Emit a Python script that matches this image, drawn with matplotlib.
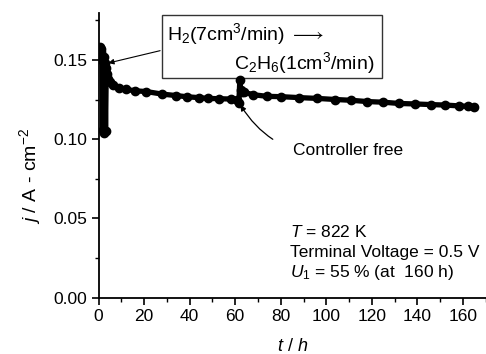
import matplotlib
matplotlib.use("Agg")
import matplotlib.pyplot as plt
from matplotlib.patches import Rectangle
from matplotlib.ticker import MultipleLocator

plt.rcParams['font.family'] = ['Liberation Sans', 'DejaVu Sans']
plt.rcParams['mathtext.fontset'] = 'custom'
plt.rcParams['mathtext.rm'] = 'Liberation Sans'
plt.rcParams['mathtext.it'] = 'Liberation Sans:italic'
plt.rcParams['mathtext.bf'] = 'Liberation Sans:bold'

# current density trace (t in h, j in A/cm2)
t_hours = [0.5, 0.9, 1.3, 1.6, 1.9, 2.2, 2.5, 2.8, 3.1, 3.4, 3.8, 4.2, 5.0, 6.5,
           9, 12, 16, 21, 28, 34, 39, 44, 48, 53, 58,
           61.0, 61.6, 62.0, 62.4, 63.0, 64, 68, 74, 80, 88, 96,
           104, 111, 118, 125, 132, 139, 146, 152, 158, 162, 165]
j_current = [0.158, 0.157, 0.155, 0.150, 0.106, 0.152, 0.104, 0.148, 0.105, 0.145, 0.141, 0.138,
             0.136, 0.134,
             0.132, 0.1314, 0.1305, 0.130, 0.1284, 0.1275, 0.1267, 0.1262, 0.1257, 0.1255, 0.1253,
             0.1250, 0.1228, 0.137, 0.131, 0.130, 0.1295, 0.128, 0.127, 0.1268, 0.1262, 0.1257,
             0.1250, 0.1245, 0.1237, 0.1233, 0.1225, 0.1222, 0.1218, 0.1215, 0.1210, 0.1207, 0.1204]

x_ticks = [0, 20, 40, 60, 80, 100, 120, 140, 160]
y_ticks = [0.00, 0.05, 0.10, 0.15]

fig = plt.figure(figsize=(4.86, 3.54), dpi=100)
ax = fig.add_axes([0.2027, 0.159, 0.797, 0.804])

ax.plot(t_hours, j_current, color='black', lw=3.8, marker='o', ms=6,
        solid_capstyle='round', solid_joinstyle='round')

ax.set_xlim(0, 170)
ax.set_ylim(0, 0.1795)
ax.set_xticks(x_ticks)
ax.set_yticks(y_ticks)
ax.set_yticklabels(['%.2f' % v for v in y_ticks])
ax.xaxis.set_minor_locator(MultipleLocator(10))
ax.yaxis.set_minor_locator(MultipleLocator(0.025))
ax.tick_params(which='major', direction='out', length=5, width=1.2, labelsize=12.5, pad=3)
ax.tick_params(which='minor', direction='out', length=3, width=1.0)

ax.spines['top'].set_visible(False)
ax.spines['right'].set_visible(False)
ax.spines['left'].set_linewidth(1.3)
ax.spines['bottom'].set_linewidth(1.3)

ax.text(-0.177, 0.427, '$j$ / A - cm$^{-2}$', transform=ax.transAxes,
        rotation=90, ha='center', va='center', fontsize=14)
ax.text(0.5, -0.17, '$t$ / $h$', transform=ax.transAxes,
        ha='center', va='center', fontsize=13)

# gas switch box
ax.add_patch(Rectangle((0.164, 0.772), 0.568, 0.221, transform=ax.transAxes,
                       fill=False, lw=1.0, edgecolor='#333333', clip_on=False))
ax.text(0.176, 0.928, 'H$_2$(7cm$^3$/min) $\\longrightarrow$', transform=ax.transAxes,
        ha='left', va='center', fontsize=14)
ax.text(0.712, 0.826, 'C$_2$H$_6$(1cm$^3$/min)', transform=ax.transAxes,
        ha='right', va='center', fontsize=14)
ax.annotate('', xy=(4.3, 0.148), xytext=(0.159, 0.868), textcoords='axes fraction',
            arrowprops=dict(arrowstyle='-|>', color='black', lw=0.8,
                            mutation_scale=8, shrinkA=0, shrinkB=0))

ax.annotate('Controller free', xy=(62.3, 0.1215), xytext=(0.502, 0.518),
            textcoords='axes fraction', ha='left', va='center', fontsize=12.5,
            arrowprops=dict(arrowstyle='-|>', color='black', lw=0.9, mutation_scale=8,
                            shrinkA=14, shrinkB=0, connectionstyle='arc3,rad=-0.35'))

ax.text(0.494, 0.232, '$T$ = 822 K', transform=ax.transAxes, ha='left', va='center', fontsize=12.5)
ax.text(0.494, 0.160, 'Terminal Voltage = 0.5 V', transform=ax.transAxes,
        ha='left', va='center', fontsize=12.5)
ax.text(0.494, 0.090, '$U_1$ = 55 % (at  160 h)', transform=ax.transAxes,
        ha='left', va='center', fontsize=12.5)

fig.savefig('out.png', dpi=100)
